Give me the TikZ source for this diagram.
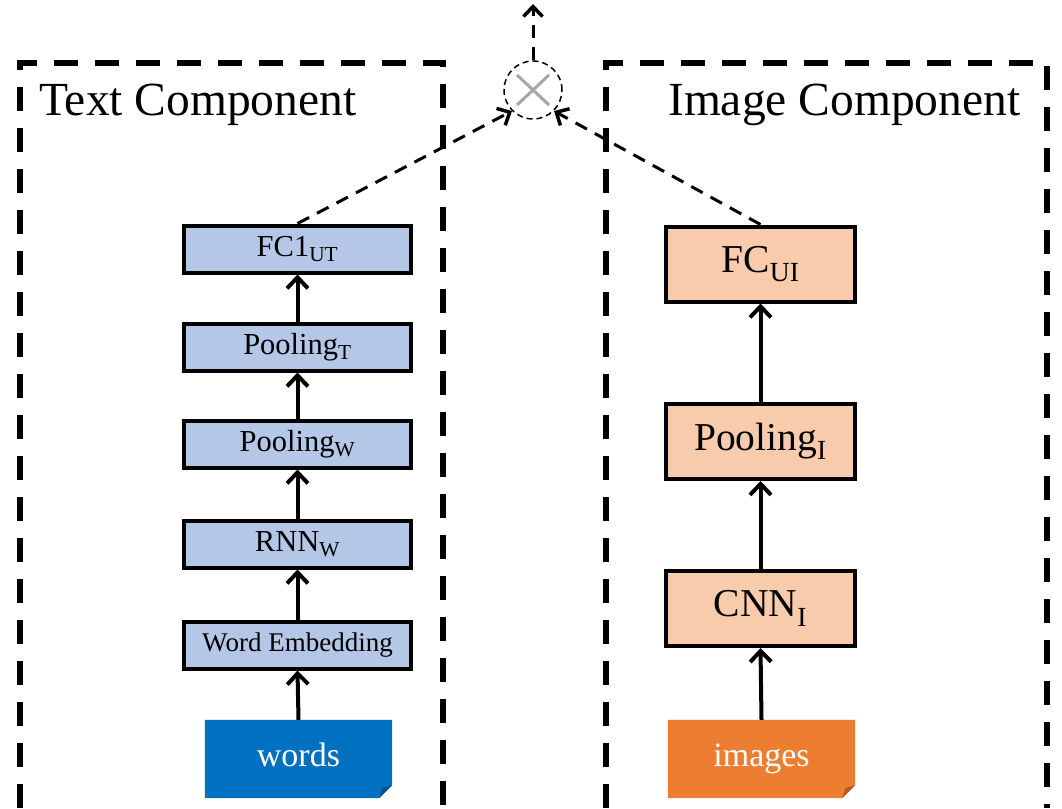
\documentclass[tikz,border=0pt]{standalone}
\usepackage{fontspec}
\setmainfont{Liberation Serif}
\usetikzlibrary{arrows.meta,backgrounds}
\definecolor{lblue}{HTML}{B4C7E7}
\definecolor{peach}{HTML}{F8CBAD}
\definecolor{wblue}{HTML}{0070C0}
\definecolor{wblued}{HTML}{00508C}
\definecolor{iorange}{HTML}{ED7D31}
\definecolor{iorangeD}{HTML}{B85A1C}
\definecolor{xgray}{HTML}{A6A6A6}
\tikzset{
  frame/.style={line width=6pt, dash pattern=on 24pt off 17pt},
  tbox/.style={draw, line width=4pt, fill=lblue, minimum width=227pt, minimum height=47pt, inner sep=0pt, font=\fontsize{30.5}{32}\selectfont},
  ibox/.style={draw, line width=4pt, fill=peach, minimum width=189pt, minimum height=75pt, inner sep=0pt, font=\fontsize{39.5}{42}\selectfont},
  inbox/.style={minimum width=187pt, minimum height=78pt, inner sep=0pt, text height=24pt, text depth=10pt, text=white, font=\fontsize{34}{36}\selectfont},
  arr/.style={line width=4pt, -{Straight Barb[length=11pt, width=21pt, line width=4pt]}},
  dconn/.style={line width=3pt, dash pattern=on 13pt off 9pt, -{Straight Barb[length=10pt, width=19pt, line width=3.5pt]}},
  titl/.style={anchor=base west, inner sep=0pt, font=\fontsize{47.5}{50}\selectfont}
}
\begin{document}
\begin{tikzpicture}[x=1pt, y=-1pt]
\useasboundingbox (0,0) rectangle (1062,808);
% frames
\draw[frame] (20,808) -- (20,63) -- (443,63) -- (443,808);
\draw[frame] (606,808) -- (606,63) -- (1047,63) -- (1047,808);
% titles
\node[titl] (tt) at (39,115) {Text Component};
\node[titl] (it) at (668,115) {Image Component};
% text column
\node[tbox] (fc1) at (297.5,249) {FC1\textsubscript{UT}};
\node[tbox] (pt) at (297.5,347) {Pooling\textsubscript{T}};
\node[tbox] (pw) at (297.5,444) {Pooling\textsubscript{W}};
\node[tbox] (rnn) at (297.5,544) {RNN\textsubscript{W}};
\node[tbox, font=\fontsize{27}{29}\selectfont] (we) at (297.5,645) {Word Embedding};
\node[inbox] (words) at (298.5,759) {words};
% image column
\node[ibox] (fcui) at (760.5,264) {FC\textsubscript{UI}};
\node[ibox] (pi) at (760.5,441.5) {Pooling\textsubscript{I}};
\node[ibox] (cnn) at (760.5,608.5) {CNN\textsubscript{I}};
\node[inbox] (images) at (761.5,759) {images};
\begin{scope}[on background layer]
  \fill[wblue] (words.north west) -- (words.north east) -- ([yshift=13pt]words.south east) -- ([xshift=-13pt]words.south east) -- (words.south west) -- cycle;
  \fill[wblued] ([yshift=13pt]words.south east) -- ([xshift=-13pt]words.south east) -- ([xshift=-10pt,yshift=10pt]words.south east) -- cycle;
  \fill[iorange] (images.north west) -- (images.north east) -- ([yshift=13pt]images.south east) -- ([xshift=-13pt]images.south east) -- (images.south west) -- cycle;
  \fill[iorangeD] ([yshift=13pt]images.south east) -- ([xshift=-13pt]images.south east) -- ([xshift=-10pt,yshift=10pt]images.south east) -- cycle;
\end{scope}
% arrows
\draw[arr] (words.north) -- (we.south);
\draw[arr] (we.north) -- (rnn.south);
\draw[arr] (rnn.north) -- (pw.south);
\draw[arr] (pw.north) -- (pt.south);
\draw[arr] (pt.north) -- (fc1.south);
\draw[arr] (images.north) -- (cnn.south);
\draw[arr] (cnn.north) -- (pi.south);
\draw[arr] (pi.north) -- (fcui.south);
% fusion
\node[circle, draw, line width=1.5pt, dash pattern=on 6pt off 4pt, minimum size=58pt, inner sep=0pt] (mul) at (533,90) {};
\draw[xgray, line width=3pt] ([xshift=-16pt,yshift=15pt]mul.center) -- ([xshift=16pt,yshift=-15pt]mul.center);
\draw[xgray, line width=3pt] ([xshift=-16pt,yshift=-15pt]mul.center) -- ([xshift=16pt,yshift=15pt]mul.center);
\coordinate (out) at (533,4);
\draw[dconn] (fc1.north) -- (mul.south west);
\draw[dconn] (fcui.north) -- (mul.south east);
\draw[dconn] (mul.north) -- (out);
\end{tikzpicture}
\end{document}
